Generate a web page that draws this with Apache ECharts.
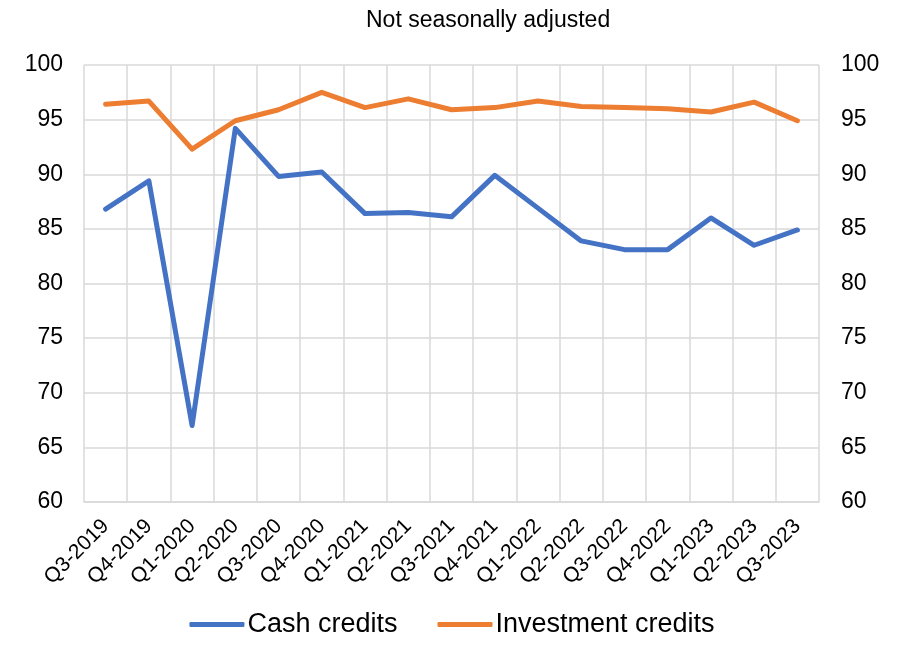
<!DOCTYPE html>
<html>
<head>
<meta charset="utf-8">
<script src="https://cdn.jsdelivr.net/npm/echarts@6/dist/echarts.min.js"></script>
<style>
  html, body { margin: 0; padding: 0; background: #fff; }
  #chart { width: 904px; height: 645px; }
</style>
</head>
<body>
<div id="chart"></div>
<script>
// quarters on the x axis
const quarters = ['Q3-2019', 'Q4-2019', 'Q1-2020', 'Q2-2020', 'Q3-2020', 'Q4-2020',
  'Q1-2021', 'Q2-2021', 'Q3-2021', 'Q4-2021', 'Q1-2022', 'Q2-2022', 'Q3-2022',
  'Q4-2022', 'Q1-2023', 'Q2-2023', 'Q3-2023']

const cashCredits = [86.8, 89.4, 67.0, 94.2, 89.8, 90.2, 86.4, 86.5, 86.1, 89.9,
  86.9, 83.9, 83.1, 83.1, 86.0, 83.5, 84.9]

const investmentCredits = [96.4, 96.7, 92.3, 94.9, 95.9, 97.5, 96.1, 96.9, 95.9, 96.1,
  96.7, 96.2, 96.1, 96.0, 95.7, 96.6, 94.9]

const FONT = '"Liberation Sans", Arial, sans-serif'
const GRID_COLOR = '#d9d9d9'

const chart = echarts.init(document.getElementById('chart'))

chart.setOption({
  animation: false,
  textStyle: { fontFamily: FONT, color: '#000' },
  title: {
    text: 'Not seasonally adjusted',
    left: 361,
    top: 4,
    textStyle: { fontFamily: FONT, fontSize: 23, fontWeight: 'normal', color: '#000' }
  },
  grid: {
    left: 84,
    right: 85,
    top: 65,
    bottom: 143
  },
  legend: {
    bottom: 2,
    left: 'center',
    icon: 'roundRect',
    itemWidth: 55,
    itemHeight: 5,
    itemGap: 40,
    textStyle: { fontFamily: FONT, fontSize: 27, color: '#000', padding: [0, 0, 0, -2] },
    data: ['Cash credits', 'Investment credits']
  },
  xAxis: {
    type: 'category',
    data: quarters,
    boundaryGap: true,
    axisLine: { lineStyle: { color: GRID_COLOR, width: 1.5 } },
    axisTick: { show: false },
    splitLine: { show: true, lineStyle: { color: GRID_COLOR, width: 1.5 } },
    axisLabel: {
      rotate: 45,
      interval: 0,
      margin: 21,
      fontSize: 21,
      fontFamily: FONT,
      color: '#000'
    }
  },
  yAxis: [
    {
      type: 'value',
      min: 60,
      max: 100,
      interval: 5,
      axisLine: { show: false },
      axisTick: { show: false },
      splitLine: { lineStyle: { color: GRID_COLOR, width: 1.5 } },
      axisLabel: { fontSize: 23, margin: 21, fontFamily: FONT, color: '#000' }
    },
    {
      type: 'value',
      position: 'right',
      min: 60,
      max: 100,
      interval: 5,
      axisLine: { show: false },
      axisTick: { show: false },
      splitLine: { show: false },
      axisLabel: { fontSize: 23, margin: 22, fontFamily: FONT, color: '#000' }
    }
  ],
  series: [
    {
      name: 'Cash credits',
      type: 'line',
      data: cashCredits,
      symbol: 'none',
      itemStyle: { color: '#4472C4' },
      lineStyle: { color: '#4472C4', width: 5, cap: 'round', join: 'round' }
    },
    {
      name: 'Investment credits',
      type: 'line',
      data: investmentCredits,
      symbol: 'none',
      itemStyle: { color: '#ED7D31' },
      lineStyle: { color: '#ED7D31', width: 5, cap: 'round', join: 'round' }
    }
  ]
})
</script>
</body>
</html>
